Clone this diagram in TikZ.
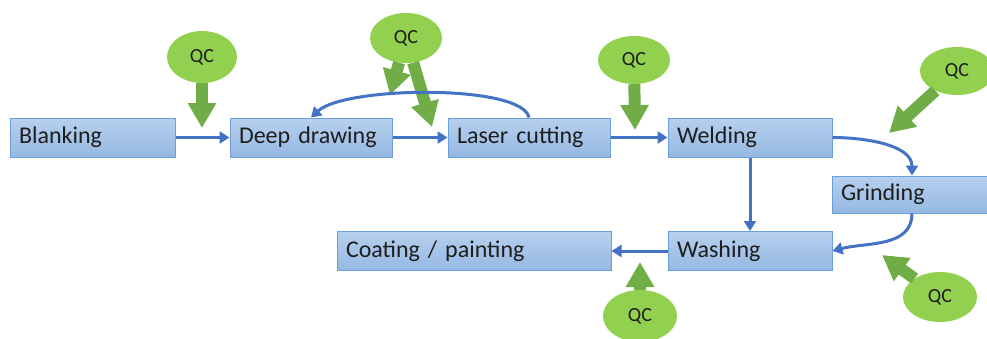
\documentclass[tikz,border=0pt]{standalone}
\usepackage{fontspec}
\setmainfont{Carlito}
\usetikzlibrary{arrows.meta,shapes.geometric}
\definecolor{flowblue}{HTML}{4472C4}
\definecolor{boxline}{HTML}{6A9FDA}
\definecolor{boxtop}{HTML}{B6D0EE}
\definecolor{boxbot}{HTML}{96B8E2}
\definecolor{qcfill}{HTML}{92D050}
\definecolor{qcarrowcol}{HTML}{70AD47}
\definecolor{textdark}{HTML}{1E1E1E}
\begin{document}
\begin{tikzpicture}[x=1pt,y=-1pt,
  stepbox/.style={draw=boxline, line width=1pt, top color=boxtop, bottom color=boxbot,
    minimum height=39pt, inner xsep=9pt, inner ysep=0pt, align=left,
    font=\fontsize{24}{28}\selectfont, text=textdark},
  qcnode/.style={ellipse, fill=qcfill, inner sep=0pt,
    font=\fontsize{20}{24}\selectfont, text=textdark},
  flow/.style={draw=flowblue, line width=3pt, -{Triangle[width=12pt,length=10pt]}},
  qcarrow/.style={draw=qcarrowcol, line width=12pt, -{Triangle[width=27pt,length=25pt]}}]
\useasboundingbox (0,0) rectangle (987,338);

% process steps
\node[stepbox, text width=147pt] (bl) at (92.5,137.5) {Blanking};
\node[stepbox, text width=144pt] (dd) at (311,137.5) {Deep drawing};
\node[stepbox, text width=144pt] (lc) at (529,137.5) {Laser cutting};
\node[stepbox, text width=146pt] (we) at (750,137.5) {Welding};
\node[stepbox, text width=142pt, minimum height=37pt] (gr) at (912,194.5) {Grinding};
\node[stepbox, text width=146pt] (wa) at (750,251) {Washing};
\node[stepbox, text width=256pt] (co) at (474,251) {Coating / painting};

% quality checks
\node[qcnode, minimum width=70pt, minimum height=52pt] (q1) at (202,57) {QC};
\node[qcnode, minimum width=72pt, minimum height=50pt] (q2) at (406,38) {QC};
\node[qcnode, minimum width=72pt, minimum height=48pt] (q3) at (634,60) {QC};
\node[qcnode, minimum width=74pt, minimum height=48pt] (q4) at (957,71) {QC};
\node[qcnode, minimum width=74pt, minimum height=50pt] (q5) at (940,297) {QC};
\node[qcnode, minimum width=74pt, minimum height=52pt] (q6) at (640,316) {QC};

\coordinate (t1) at (202,128);
\coordinate (t2a) at (390,95);
\coordinate (t2b) at (432,127);
\coordinate (t3) at (635,130);
\coordinate (t4) at (889,133);
\coordinate (t5) at (882,255);
\coordinate (t6) at (640,262);

\draw[qcarrow] (q1) -- (t1);
\draw[qcarrow] (q2) -- (t2a);
\draw[qcarrow] (q2) -- (t2b);
\draw[qcarrow] (q3) -- (t3);
\draw[qcarrow] (q4) -- (t4);
\draw[qcarrow] (q5) -- (t5);
\draw[qcarrow] (q6) -- (t6);

% material flow
\draw[flow] (bl) -- (dd);
\draw[flow] (dd) -- (lc);
\draw[flow] (lc) -- (we);
\draw[flow] (lc.north) .. controls (522,84) and (345,86) .. (dd.north);
\draw[flow] (we.east) to[out=0, in=90, looseness=0.9] (gr.north);
\draw[flow] (gr.south) to[out=-90, in=15] (wa.east);
\draw[flow] (we.south) -- (wa.north);
\draw[flow] (wa) -- (co);
\end{tikzpicture}
\end{document}
